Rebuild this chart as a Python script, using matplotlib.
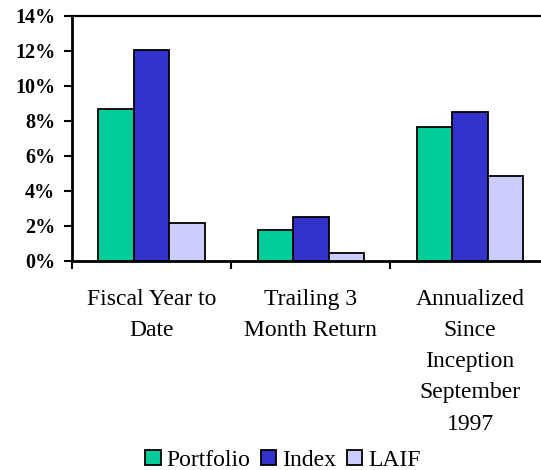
import numpy as np
import matplotlib.pyplot as plt
from matplotlib.ticker import FixedLocator

# ── Data ──────────────────────────────────────────────────────────────────────
categories = ["Fiscal Year to\nDate",
              "Trailing 3\nMonth Return",
              "Annualized\nSince\nInception\nSeptember\n1997"]
series_names = ["Portfolio", "Index", "LAIF"]
portfolio = [8.69, 1.77, 7.66]
index_ret = [12.04, 2.53, 8.53]
laif = [2.19, 0.44, 4.84]
y_ticks = [0, 2, 4, 6, 8, 10, 12, 14]
y_labels = ["0%", "2%", "4%", "6%", "8%", "10%", "12%", "14%"]

COLORS = ["#00CC99", "#3333CC", "#CCCCFF"]
BAR_W = 0.223
SERIF = ["Liberation Serif", "DejaVu Serif"]


def main():
    plt.rcParams["font.family"] = SERIF

    fig = plt.figure(figsize=(5.41, 4.70), dpi=100)
    ax = fig.add_axes([0.1331, 0.4447, 0.883, 0.5213])

    x = np.arange(len(categories))
    for i, (vals, name) in enumerate(zip([portfolio, index_ret, laif], series_names)):
        ax.bar(x + (i - 1) * BAR_W, vals, BAR_W, color=COLORS[i],
               edgecolor="black", linewidth=1.3, label=name, zorder=3)

    ax.set_xlim(-0.5, len(categories) - 0.5)
    ax.set_ylim(0, 14)

    # y axis
    ax.set_yticks(y_ticks, y_labels, fontsize=14.5, fontweight="bold",
                  family=SERIF)
    ax.tick_params(axis="y", direction="out", length=6, width=1.5, pad=6)

    # x axis: ticks at boundaries, labels at centres
    ax.xaxis.set_major_locator(FixedLocator(np.arange(len(categories) + 1) - 0.5))
    ax.xaxis.set_minor_locator(FixedLocator(x))
    ax.set_xticklabels([])
    ax.set_xticklabels(categories, minor=True, fontsize=17, linespacing=1.64,
                       va="top", ha="center")
    ax.tick_params(axis="x", which="major", direction="out", length=6, width=1.5)
    ax.tick_params(axis="x", which="minor", length=0, pad=20)

    for side in ["left", "bottom"]:
        ax.spines[side].set_linewidth(2)
    ax.spines["top"].set_linewidth(1.6)
    ax.spines["right"].set_visible(False)

    ax.legend(loc="center", bbox_to_anchor=(0.523, 0.021),
              bbox_transform=fig.transFigure, ncol=3, frameon=False,
              fontsize=17, handlelength=0.65, handleheight=0.65,
              handletextpad=0.25, columnspacing=0.45, borderpad=0)

    fig.savefig("out.png", dpi=100)


if __name__ == "__main__":
    main()
